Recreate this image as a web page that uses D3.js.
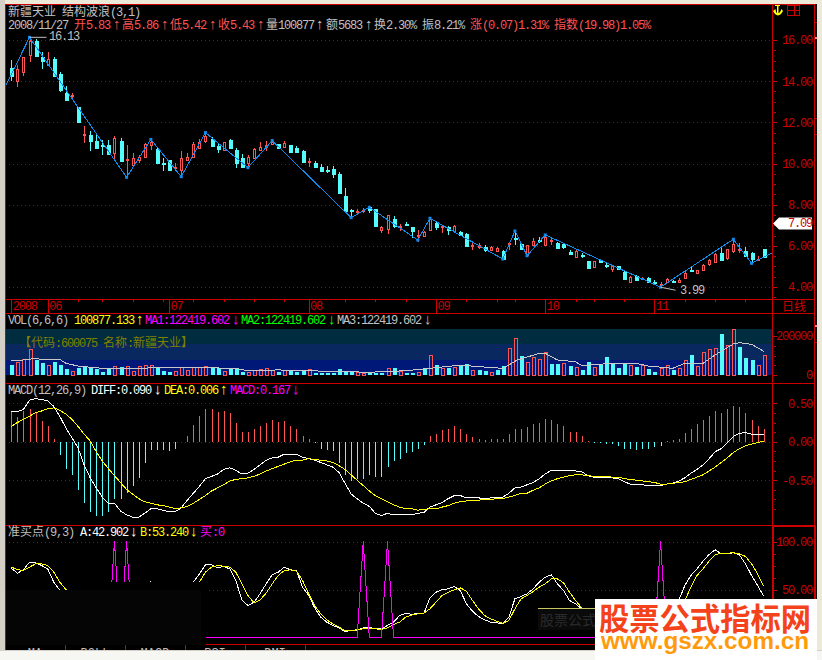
<!DOCTYPE html>
<html>
<head>
<meta charset="utf-8">
<script src="https://cdn.jsdelivr.net/npm/d3@7"></script>
<style>
  html, body { margin: 0; padding: 0; background: #fff; overflow: hidden; }
  svg { display: block; }
  text { font-family: "Liberation Mono", "Noto Sans CJK SC", monospace; font-size: 12px; }
</style>
</head>
<body>
<div class="chart"></div>
<script>
// candles, oldest first
const bodyTop = [14.62,14.58,15.16,15.97,15.97,15.19,15.06,15.08,14.35,13.44,
  13.31,12.73,11.43,11.38,11.09,10.91,10.90,11.22,11.09,10.22,
  10.25,10.30,10.95,11.06,10.69,10.02,10.17,9.81,10.25,10.30,
  10.95,11.06,11.34,11.17,10.85,11.04,11.14,10.66,10.27,10.33,
  10.70,10.79,10.88,11.06,10.93,11.01,10.88,10.77,10.62,10.14,
  10.04,9.85,9.70,9.73,9.49,8.42,7.72,7.68,7.72,7.87,
  7.77,6.90,7.50,7.29,6.98,7.06,6.90,6.54,6.66,7.29,
  7.13,6.95,6.90,6.96,6.69,6.56,6.06,6.04,5.96,5.96,
  5.88,5.77,6.13,6.38,6.09,6.04,6.25,6.30,6.41,6.27,
  6.12,6.07,5.72,5.75,5.57,5.26,5.26,5.31,5.05,5.02,
  5.00,4.74,4.50,4.53,4.44,4.42,4.26,4.16,4.39,4.31,
  4.34,4.70,4.84,4.81,5.07,5.31,5.60,5.63,5.83,6.09,
  5.86,5.77,5.63,5.36,5.83];
const bodyBottom = [14.25,14.01,14.41,15.27,15.24,15.00,14.79,14.25,13.57,13.08,
  13.26,11.98,11.40,11.09,10.77,10.88,10.45,10.49,10.14,10.19,
  9.93,10.17,10.33,10.93,10.01,9.99,9.68,9.78,9.65,10.17,
  10.33,10.77,11.08,10.85,10.70,10.66,10.74,10.04,9.85,10.04,
  10.25,10.66,10.79,10.98,10.74,10.82,10.53,10.58,10.07,10.10,
  9.85,9.65,9.67,9.49,8.55,7.71,7.69,7.64,7.69,7.71,
  6.96,6.74,6.80,6.93,6.95,7.03,6.69,6.51,6.48,6.74,
  6.93,6.92,6.77,6.74,6.53,5.99,6.03,5.96,5.80,5.83,
  5.75,5.39,6.10,6.35,5.83,5.55,6.04,6.27,6.04,6.24,
  5.88,5.93,5.60,5.44,5.54,4.94,4.96,5.21,5.02,4.86,
  4.87,4.39,4.26,4.34,4.40,4.23,4.23,4.13,4.26,4.28,
  4.26,4.47,4.81,4.66,4.83,5.12,5.23,5.31,5.39,5.75,
  5.83,5.52,5.34,5.33,5.43];
const highs = [15.03,14.78,15.16,16.13,16.03,15.43,15.43,15.16,14.46,13.76,
  13.41,12.76,11.82,11.58,11.38,11.14,11.14,11.34,11.22,10.90,
  10.49,10.41,10.98,11.22,10.74,10.28,10.17,10.04,10.62,10.53,
  11.06,11.17,11.50,11.30,11.01,11.06,11.20,10.74,10.46,10.40,
  10.74,11.06,11.09,11.17,10.93,11.08,10.88,10.85,10.66,10.25,
  10.14,9.96,9.89,9.89,9.57,8.79,7.77,7.77,7.82,7.90,
  7.77,6.96,7.50,7.45,7.06,7.17,6.90,6.77,6.72,7.34,
  7.17,7.01,6.96,7.01,6.74,6.61,6.12,6.12,6.04,5.99,
  5.93,5.80,6.15,6.72,6.15,6.04,6.36,6.41,6.53,6.36,
  6.20,6.15,5.80,5.80,5.67,5.26,5.26,5.34,5.15,5.07,
  5.04,4.79,4.53,4.58,4.50,4.50,4.34,4.23,4.42,4.34,
  4.42,4.79,4.99,4.83,5.12,5.34,5.63,5.96,5.83,6.32,
  6.12,5.96,5.72,5.51,5.86];
const lows = [14.01,13.73,14.25,14.95,15.24,14.59,14.74,14.19,13.49,13.04,
  13.12,11.98,11.01,10.62,10.74,10.41,10.41,10.17,10.14,9.33,
  9.89,10.01,10.33,10.66,10.01,9.65,9.65,9.65,9.36,10.14,
  10.33,10.74,11.01,10.82,10.53,10.62,10.70,9.80,9.80,9.80,
  10.25,10.62,10.62,10.90,10.74,10.82,10.53,10.53,10.04,9.85,
  9.85,9.64,9.52,9.31,8.52,7.71,7.37,7.50,7.58,7.61,
  6.93,6.64,6.58,6.87,6.74,6.96,6.40,6.20,6.45,6.72,
  6.77,6.61,6.53,6.69,6.48,5.96,5.80,5.85,5.72,5.80,
  5.72,5.34,5.80,6.04,5.80,5.51,6.01,6.12,6.01,6.04,
  5.85,5.85,5.55,5.42,5.39,4.94,4.91,5.18,4.91,4.74,
  4.82,4.37,4.23,4.34,4.34,4.18,4.10,3.99,4.23,4.21,
  4.18,4.45,4.74,4.63,4.79,5.04,5.20,5.28,5.31,5.63,
  5.63,5.47,5.15,5.28,5.42];
const candleDir = "crrrccrccc" + "rcrccccrcr" + "rrrrcccrrr" + "rrrccrcccr" + "rrrrcrcccr" +
  "cccccccrrc" + "crrcrccrrr" + "crcrccrrcr" + "rcrccrrcrr" + "cccrccrccr" +
  "ccrcrccrrc" + "rrcrrrrcrr" + "rccrc";

// structure wave turning points
const waveIdx = [-0.9,3,19,23,28,32,39,43,56,59,67,69,81,83,85,88,107,119,122,125.3];
const wavePrice = [13.78,16.13,9.33,11.17,9.36,11.50,9.80,11.11,7.37,7.87,6.28,7.34,5.36,6.72,5.52,6.53,3.99,6.32,5.15,5.64];

// volume, thousands of lots
const volK = [56,65,80,132,84,67,50,70,56,38,
  21,43,46,46,34,21,34,46,46,46,
  21,46,51,51,43,26,21,21,39,27,
  39,39,46,46,39,21,34,34,21,17,
  26,31,34,24,21,27,29,21,24,29,
  15,17,15,17,36,26,21,17,10,14,
  17,17,36,41,22,14,15,14,34,103,
  56,34,43,43,55,60,26,31,26,17,
  29,51,137,188,103,65,91,82,116,63,
  60,62,51,41,31,72,41,62,99,60,
  43,67,51,48,51,38,22,38,51,29,
  34,77,108,48,118,133,137,215,154,236,
  149,94,82,51,100.9];
const volDir = "crrrccrccc" + "rccccccrcr" + "rrrrcccrrr" + "rrrccrcccr" + "rrrrcrcccr" +
  "cccccccrrc" + "ccrcrccrcr" + "crcrccrccr" + "ccrrcrrrrc" + "crcrccrccc" +
  "ccrcrccrrc" + "rrcrrrrcrr" + "cccrr";
const volMaIdx = [0,2,4,5,8,9,11,15,20,27,31,37,39,44,48,53,59,65,69,74,77,81,82,83.4,87,88,90,93,94,99,103,105,109,111,114,116,119,120,122,124];
const volMa = [73,77,85,80,80,60,46,34,34,39,38,34,22,26,22,19,14,22,34,51,43,34,51,77,111,111,77,68,48,60,60,46,34,60,60,103,159,166,157,122];

// MACD
const macdBar = [.39,.32,.40,.43,.39,.27,.20,.03,-.17,-.35,
  -.43,-.63,-.79,-.91,-.96,-.96,-.91,-.75,-.74,-.67,
  -.57,-.47,-.27,-.11,-.11,-.11,-.12,-.10,0,.08,
  .22,.33,.42,.42,.39,.40,.38,.24,.13,.13,
  .17,.21,.24,.28,.26,.27,.20,.16,.07,.03,
  -.01,-.09,-.11,-.12,-.27,-.43,-.51,-.49,-.49,-.43,
  -.46,-.46,-.33,-.25,-.22,-.15,-.13,-.09,-.04,.07,
  .10,.15,.17,.20,.17,.10,.06,.04,.02,.03,
  .04,.03,.10,.17,.16,.19,.23,.25,.29,.28,
  .23,.20,.13,.13,.07,.01,-.02,-.02,-.03,-.03,
  -.05,-.10,-.10,-.11,-.09,-.09,-.07,-.05,.01,.02,
  .04,.12,.17,.23,.28,.34,.40,.38,.43,.47,
  .45,.37,.28,.21,.167];
const diff = [.39,.39,.42,.54,.56,.55,.53,.46,.33,.18,
  .05,-.08,-.30,-.47,-.60,-.72,-.80,-.80,-.90,-.95,
  -.98,-.98,-.93,-.87,-.87,-.89,-.91,-.91,-.86,-.76,
  -.67,-.58,-.48,-.45,-.42,-.36,-.34,-.37,-.42,-.41,
  -.36,-.30,-.24,-.21,-.20,-.16,-.16,-.16,-.20,-.22,
  -.24,-.27,-.30,-.33,-.40,-.54,-.68,-.74,-.80,-.84,
  -.93,-.96,-.93,-.95,-.94,-.94,-.95,-.93,-.92,-.85,
  -.82,-.79,-.74,-.70,-.70,-.73,-.73,-.73,-.74,-.73,
  -.72,-.72,-.67,-.60,-.59,-.56,-.53,-.48,-.42,-.37,
  -.37,-.37,-.38,-.38,-.39,-.44,-.46,-.46,-.47,-.47,
  -.48,-.52,-.55,-.56,-.56,-.57,-.57,-.57,-.55,-.54,
  -.51,-.47,-.41,-.36,-.30,-.22,-.13,-.09,-.01,.07,
  .11,.12,.10,.09,.09];
const dea = [.20,.25,.29,.33,.38,.40,.43,.44,.41,.36,
  .29,.20,.10,.01,-.13,-.25,-.35,-.44,-.53,-.62,
  -.68,-.74,-.78,-.80,-.82,-.83,-.85,-.87,-.86,-.84,
  -.80,-.75,-.70,-.64,-.60,-.56,-.51,-.49,-.48,-.47,
  -.45,-.42,-.38,-.35,-.32,-.29,-.26,-.24,-.24,-.22,
  -.23,-.24,-.25,-.27,-.31,-.36,-.43,-.50,-.57,-.64,
  -.70,-.74,-.78,-.82,-.85,-.87,-.87,-.89,-.88,-.87,
  -.87,-.85,-.83,-.80,-.78,-.77,-.77,-.76,-.75,-.75,
  -.74,-.74,-.72,-.70,-.67,-.67,-.63,-.60,-.55,-.51,
  -.48,-.46,-.44,-.43,-.43,-.44,-.45,-.45,-.45,-.46,
  -.46,-.48,-.49,-.50,-.51,-.52,-.53,-.55,-.55,-.54,
  -.53,-.52,-.49,-.46,-.43,-.38,-.33,-.27,-.21,-.14,
  -.09,-.05,-.03,-.01,.006];

// buy point indicator
const lineA = [72.2,67.0,70.5,78.5,77.8,75.0,71.5,57.6,49.0,
  44,38,30,25,20,15,12,10,10,12,15,
  30,40,50,58,52,45,35,30,28,38,
  57.6,66.3,75.7,75.7,72.6,74.0,71.5,59.4,39.2,33.3,
  36.8,45.5,55.9,65.3,68.1,73.3,70.5,69.8,52.4,43.8,
  30.9,21.2,16.0,12.5,10.1,6.3,7.3,7.3,10.1,10.8,
  9.0,9.0,12.5,16.0,22.9,25.3,24.0,25.3,25.3,41.3,
  47.2,50.0,50.7,53.1,49.0,35.1,27.4,21.9,18.4,16.0,
  15.3,14.2,21.2,40.3,42.7,45.5,50.7,57.6,62.8,65.3,
  55.9,49.0,38.5,35.1,29.9,25,20,18,15,12,
  10,8,7,6,6,5,6,8,12,18,
  38.5,54.2,64.6,71.5,79.5,86.5,91.3,87.2,87.2,88.2,
  86.1,76.7,64.6,54.2,42.9];
const lineB = [73.3,70.8,69.8,73.3,76.7,76.7,75.0,68.1,57.6,
  50,42,36,30,25,20,16,14,12,12,14,
  18,24,30,38,44,45,42,38,35,38,
  45,57.6,68.1,73.3,75.0,74.3,73.3,68.1,55.9,43.8,
  36.1,39.2,46.2,55.9,64.6,69.8,70.5,69.1,59.4,45.5,
  33.3,24.7,18.4,14.2,10.8,7.3,7.3,8.0,9.0,9.7,
  9.0,8.3,10.1,13.6,16.0,21.2,23.3,24.7,25.3,29.9,
  36.8,43.8,47.2,49.7,51.7,48.3,38.5,29.9,22.9,19.4,
  17.0,14.9,17.7,29.9,40.3,43.8,47.9,52.4,55.9,61.1,
  61.1,57.0,47.2,38.5,30.9,26,22,20,18,15,
  12,10,8,7,6,6,6,7,9,13,
  21.2,38.5,52.4,64.6,71.5,79.5,86.1,87.9,87.9,88.2,
  87.2,84.4,76.7,66.3,53.24];
const buyIdx = [17,19,58,62,107];

// time axis
const minorDays = [11,15,20,25,30,35,40,45,55,60,65,75,80,83,93,96,101,111,116,121];
const monthDays = [0,6,26,49,70,88,106];
const monthLabels = ["2008","06","07","08","09","10","11"];

const priceTicks = [16,14,12,10,8,6,4];
const macdTicks = [0.5,0,-0.5];
const buyTicks = [100,50];

const RED = "#cc0000", UP = "#ff5454", DOWN = "#54fcfc", GRAY = "#c0c0c0", WAVE = "#0f8cf0";
const MAGENTA = "#ff00ff", YELLOW = "#ffff00", GREEN = "#00ff00";
const width = 822, height = 660;
const left = 5, axisX = 773, rightX = 814;

const svg = d3.select(".chart").append("svg").attr("width", width).attr("height", height);
svg.append("rect").attr("width", width).attr("height", height).attr("fill", "#000");

const x = d3.scaleLinear().domain([0, 124]).range([11.3, 763.7]);
const yPrice = d3.scaleLinear().domain([16, 4]).range([40, 287]);
const yVol = d3.scaleLinear().domain([0, 200]).range([375, 336]);
const yMacd = d3.scaleLinear().domain([0.5, -0.5]).range([403.3, 480.2]);
const yBuy = d3.scaleLinear().domain([100, 0]).range([541.5, 637.5]);
const px = (i) => Math.round(x(i)) + 0.5;

// text helper: half width latin, full width CJK, like the bitmap font of the original
function label(g, xp, yp, str, color) {
  const t = g.append("text").attr("x", xp).attr("y", yp).attr("fill", color);
  str.match(/[\u3000-\u9fff\uff00-\uffff]+|[↑↓]+|[^\u3000-\u9fff\uff00-\uffff↑↓]+/g).forEach((run) => {
    const cjk = /[\u3000-\u9fff\uff00-\uffff]/.test(run);
    const arrow = /[↑↓]/.test(run);
    const s = t.append("tspan").text(run)
      .style("letter-spacing", cjk || arrow ? "0px" : "-1.2px")
      .style("white-space", "pre");
    if (arrow) s.style("font-size", "15px").style("font-family", '"Liberation Sans"');
  });
  return t;
}

function grid(scale, ticks) {
  svg.append("g").selectAll("line").data(ticks).join("line")
    .attr("x1", left).attr("x2", axisX)
    .attr("y1", (d) => Math.round(scale(d)) + 0.5).attr("y2", (d) => Math.round(scale(d)) + 0.5)
    .attr("stroke", "#b00000").attr("stroke-dasharray", "1 3");
}

// volume panel bands
[[329, 344, "#002c40"], [344, 360, "#0a2860"], [360, 375, "#001878"]].forEach((b) => {
  svg.append("rect").attr("x", left).attr("y", b[0]).attr("width", axisX - left).attr("height", b[1] - b[0]).attr("fill", b[2]);
});

grid(yPrice, priceTicks);
grid(yMacd, macdTicks);
grid(yBuy, buyTicks);

// candles
const candles = svg.append("g").attr("shape-rendering", "crispEdges");
candles.selectAll(".wick").data(highs).join("line").attr("class", "wick")
  .attr("x1", (d, i) => px(i)).attr("x2", (d, i) => px(i))
  .attr("y1", (d) => yPrice(d)).attr("y2", (d, i) => yPrice(lows[i]))
  .attr("stroke", (d, i) => candleDir[i] === "r" ? UP : DOWN);
candles.selectAll(".body").data(bodyTop).join("rect").attr("class", "body")
  .attr("x", (d, i) => candleDir[i] === "r" ? px(i) - 1 : px(i) - 1.5)
  .attr("width", (d, i) => candleDir[i] === "r" ? 2 : 3)
  .attr("y", (d) => Math.round(yPrice(d)) + 0.5)
  .attr("height", (d, i) => Math.max(1, Math.round(yPrice(bodyBottom[i]) - yPrice(d))))
  .attr("fill", (d, i) => candleDir[i] === "r" ? "#000" : DOWN)
  .attr("stroke", (d, i) => candleDir[i] === "r" ? UP : DOWN);

// wave line
const waveLine = d3.line().x((d, i) => x(waveIdx[i])).y((d) => yPrice(d));
svg.append("path").attr("d", waveLine(wavePrice)).attr("fill", "none").attr("stroke", WAVE)
  .attr("shape-rendering", "crispEdges");
svg.append("g").selectAll("rect").data(wavePrice.slice(1, -1)).join("rect")
  .attr("x", (d, i) => x(waveIdx[i + 1]) - 1.5).attr("y", (d) => yPrice(d) - 1.5)
  .attr("width", 3).attr("height", 3).attr("fill", WAVE);

// high and low notes
const notes = svg.append("g");
notes.append("line").attr("x1", x(3)).attr("x2", x(3) + 17).attr("y1", yPrice(16.13)).attr("y2", yPrice(16.13)).attr("stroke", GRAY);
label(notes, 49, 40, "16.13", GRAY);
notes.append("line").attr("x1", x(107)).attr("x2", x(107) + 15).attr("y1", yPrice(3.99)).attr("y2", yPrice(3.99) + 3).attr("stroke", GRAY);
label(notes, 680, 294, "3.99", GRAY);

// volume bars
const volG = svg.append("g").attr("shape-rendering", "crispEdges");
volG.selectAll("rect").data(volK).join("rect")
  .attr("x", (d, i) => px(i) - (volDir[i] === "r" ? 1.5 : 2))
  .attr("width", (d, i) => volDir[i] === "r" ? 3 : 4)
  .attr("y", (d) => Math.round(yVol(d)) + 0.5)
  .attr("height", (d) => 375 - Math.round(yVol(d)) - 0.5)
  .attr("fill", (d, i) => volDir[i] === "r" ? "none" : DOWN)
  .attr("stroke", (d, i) => volDir[i] === "r" ? UP : "none");
const volLine = d3.line().x((d, i) => x(volMaIdx[i])).y((d) => yVol(d));
svg.append("path").attr("d", volLine(volMa)).attr("fill", "none").attr("stroke", "#c8c8c8")
  .attr("shape-rendering", "crispEdges");
label(svg, 19, 347, "【代码:600075 名称:新疆天业】", "#808000");

// MACD
svg.append("g").attr("shape-rendering", "crispEdges").selectAll("line").data(macdBar).join("line")
  .attr("x1", (d, i) => px(i)).attr("x2", (d, i) => px(i))
  .attr("y1", yMacd(0)).attr("y2", (d) => yMacd(d))
  .attr("stroke", (d) => d >= 0 ? UP : DOWN);
const macdLine = d3.line().x((d, i) => x(i)).y((d) => yMacd(d));
svg.append("path").attr("d", macdLine(diff)).attr("fill", "none").attr("stroke", "#fff").attr("shape-rendering", "crispEdges");
svg.append("path").attr("d", macdLine(dea)).attr("fill", "none").attr("stroke", YELLOW).attr("shape-rendering", "crispEdges");

// buy point panel
const buyLine = d3.line().x((d, i) => x(i)).y((d) => yBuy(d));
const buy = d3.range(bodyTop.length).map((i) => buyIdx.includes(i) ? 100 : 0);
svg.append("path").attr("d", buyLine(lineA)).attr("fill", "none").attr("stroke", "#fff").attr("shape-rendering", "crispEdges");
svg.append("path").attr("d", buyLine(lineB)).attr("fill", "none").attr("stroke", YELLOW).attr("shape-rendering", "crispEdges");
svg.append("path").attr("d", buyLine(buy)).attr("fill", "none").attr("stroke", MAGENTA).attr("shape-rendering", "crispEdges");

// frame lines
const frame = svg.append("g").attr("stroke", RED).attr("shape-rendering", "crispEdges");
[4.5, 299.5, 313.5, 383.5, 525.5].forEach((yy) => {
  frame.append("line").attr("x1", left).attr("x2", rightX).attr("y1", yy).attr("y2", yy);
});
frame.append("line").attr("x1", 206).attr("x2", axisX).attr("y1", 644.5).attr("y2", 644.5);
frame.append("line").attr("x1", left + 0.5).attr("x2", left + 0.5).attr("y1", 4).attr("y2", 650);
frame.append("line").attr("x1", axisX - 0.5).attr("x2", axisX - 0.5).attr("y1", 4).attr("y2", 645);
frame.append("line").attr("x1", rightX + 0.5).attr("x2", rightX + 0.5).attr("y1", 4).attr("y2", 645);
frame.append("rect").attr("x", axisX - 0.5).attr("y", 526).attr("width", rightX - axisX + 1).attr("height", 118)
  .attr("fill", "none").attr("stroke-width", 2);
// short marks right of the frame
[22, 118, 134, 342].forEach((yy) => {
  frame.append("line").attr("x1", rightX).attr("x2", rightX + 3).attr("y1", yy + 0.5).attr("y2", yy + 0.5);
});
[38, 326].forEach((yy) => {
  svg.append("rect").attr("x", rightX + 1).attr("y", yy - 1).attr("width", 3).attr("height", 2).attr("fill", "#ff8080");
});

// value axes on the right
function rightAxis(scale, ticks, fmt, minor) {
  const g = svg.append("g").attr("transform", `translate(${axisX},0)`)
    .attr("shape-rendering", "crispEdges")
    .call(d3.axisRight(scale).tickValues(ticks).tickSize(4).tickFormat(fmt));
  g.select(".domain").remove();
  g.selectAll(".tick line").attr("stroke", RED);
  g.selectAll(".tick text").attr("x", 39).attr("text-anchor", "end").attr("fill", RED)
    .attr("font-size", 12).attr("font-family", "Liberation Mono")
    .style("letter-spacing", "-1.2px");
  const m = svg.append("g").attr("transform", `translate(${axisX + 1},0)`)
    .attr("shape-rendering", "crispEdges")
    .call(d3.axisRight(scale).tickValues(minor).tickSize(2).tickFormat(""));
  m.select(".domain").remove();
  m.selectAll(".tick line").attr("stroke", RED);
}
rightAxis(yPrice, priceTicks, (d) => d.toFixed(2), d3.range(3.5, 17, 0.5).filter((d) => d % 2 !== 0 && d <= 16));
rightAxis(yVol, [200, 0], (d) => d ? String(d * 1000) : "0", [50, 100, 150]);
rightAxis(yMacd, macdTicks, (d) => d.toFixed(2), d3.range(-0.875, 0.5, 0.125).filter((d) => d % 0.5 !== 0));
rightAxis(yBuy, buyTicks, (d) => d.toFixed(2), [87.5, 75, 62.5, 37.5, 25, 12.5]);

// current price tag
svg.append("path")
  .attr("d", d3.line()([[773, yPrice(7.09)], [779, yPrice(7.09) - 6], [812, yPrice(7.09) - 6], [812, yPrice(7.09) + 6], [779, yPrice(7.09) + 6]]) + "Z")
  .attr("fill", "#fff");
label(svg, 788, yPrice(7.09) + 4, "7.09", "#cc0000");

// time axis
const timeG = svg.append("g").attr("transform", "translate(0,299)").attr("shape-rendering", "crispEdges")
  .call(d3.axisBottom(x).tickValues(minorDays).tickSize(3).tickFormat(""));
timeG.select(".domain").remove();
timeG.selectAll("line").attr("stroke", RED);
const monthG = svg.append("g").attr("transform", "translate(0,299)").attr("shape-rendering", "crispEdges")
  .call(d3.axisBottom(x).tickValues(monthDays).tickSize(14).tickFormat((d, i) => monthLabels[i]));
monthG.select(".domain").remove();
monthG.selectAll("line").attr("stroke", RED);
monthG.selectAll("text").attr("y", 11).attr("dy", 0).attr("x", 1).attr("text-anchor", "start")
  .attr("fill", RED).attr("font-size", 12).attr("font-family", "Liberation Mono").style("letter-spacing", "-1.2px");
label(svg, 782, 311, "日线", RED);

// masks pasted over the lower left of the original
svg.append("rect").attr("x", 6).attr("y", 590).attr("width", 200).attr("height", 55).attr("fill", "#000");
svg.append("rect").attr("x", 105).attr("y", 582).attr("width", 101).attr("height", 8).attr("fill", "#000");
svg.append("rect").attr("x", 6).attr("y", 590).attr("width", 195).attr("height", 55).attr("fill", "#050505");

// tabs
const tabLabels = ["MA", "BOLL", "MACD", "RSI", "DMI"];
const tabs = svg.append("g");
tabLabels.forEach((t, i) => {
  tabs.append("text").attr("x", 35 + i * 60).attr("y", 657).attr("text-anchor", "middle").attr("fill", GRAY).text(t);
  tabs.append("line").attr("x1", 65.5 + i * 60).attr("x2", 65.5 + i * 60).attr("y1", 645).attr("y2", 650).attr("stroke", RED);
});

// second pasted box
svg.append("rect").attr("x", 538).attr("y", 608).attr("width", 57).attr("height", 22).attr("fill", "#0a0a0a");
svg.append("line").attr("x1", 538).attr("x2", 595).attr("y1", 608.5).attr("y2", 608.5).attr("stroke", "#c8c860");
svg.append("text").attr("x", 540).attr("y", 625).style("font-size", "14px").attr("fill", "#2a2a2a").text("股票公式指");

// window edges
svg.append("rect").attr("x", 0).attr("y", 650).attr("width", width).attr("height", 10).attr("fill", "#f6f6f2");
svg.append("rect").attr("x", 0).attr("y", 650).attr("width", width).attr("height", 1).attr("fill", "#d4d0c8");
svg.append("rect").attr("x", 0).attr("y", 0).attr("width", width).attr("height", 4).attr("fill", "#ece9d8");
svg.append("rect").attr("x", 0).attr("y", 0).attr("width", 5).attr("height", 650).attr("fill", "#d4d0c8");
svg.append("rect").attr("x", 817).attr("y", 0).attr("width", 5).attr("height", 650).attr("fill", "#ece9d8");

// header texts
label(svg, 8, 16, "新疆天业 结构波浪(3,1)", GRAY);
const row = [[8, "2008/11/27", GRAY], [74, "开5.83", UP], [113, "↑", UP], [122, "高5.86", UP], [161, "↑", UP], [170, "低5.42", UP], [209, "↑", UP],
  [218, "收5.43", UP], [257, "↑", UP], [266, "量100877", GRAY], [316, "↑", GRAY], [326, "额5683", GRAY], [365, "↑", GRAY], [374, "换2.30%", GRAY],
  [422, "振8.21%", GRAY], [470, "涨(0.07)1.31%", UP], [554, "指数(19.98)1.05%", UP]];
row.forEach((r) => label(svg, r[0], 29, r[1], r[2]));

const volRow = [[8, "VOL(6,6,6)", GRAY], [74, "100877.133", YELLOW], [136, "↑", YELLOW], [145, "MA1:122419.602", MAGENTA], [232, "↓", MAGENTA],
  [241, "MA2:122419.602", GREEN], [328, "↓", GREEN], [337, "MA3:122419.602", GRAY], [424, "↓", GRAY]];
volRow.forEach((r) => label(svg, r[0], 324, r[1], r[2]));

const macdRow = [[8, "MACD(12,26,9)", GRAY], [91, "DIFF:0.090", "#fff"], [154, "↓", "#fff"], [164, "DEA:0.006", YELLOW], [220, "↑", YELLOW],
  [230, "MACD:0.167", MAGENTA], [292, "↓", MAGENTA]];
macdRow.forEach((r) => label(svg, r[0], 394, r[1], r[2]));

const buyRow = [[8, "准买点(9,3)", GRAY], [80, "A:42.902", "#fff"], [130, "↓", "#fff"], [140, "B:53.240", YELLOW], [190, "↓", YELLOW], [200, "买:0", MAGENTA]];
buyRow.forEach((r) => label(svg, r[0], 536, r[1], r[2]));

// top right icons
svg.append("path").attr("d", "M775.5 9 Q776 13 777 13 L777 6 L775 6 L775 5 L780 5 L780 6 L778.5 6 L778.5 13 Q780 13 781.5 9 L783 11 Q781 15 778 15.5 Q775 15 773 11 Z")
  .attr("fill", YELLOW);
svg.append("rect").attr("x", 787.5).attr("y", 5.5).attr("width", 12).attr("height", 10).attr("fill", "none").attr("stroke", RED);
svg.append("path").attr("d", "M787.5 10.5H799.5M794.5 5.5V15.5").attr("stroke", RED).attr("fill", "none");

// site stamp
svg.append("rect").attr("x", 595).attr("y", 599).attr("width", 222).attr("height", 61).attr("fill", "#fff");
svg.append("text").attr("x", 599).attr("y", 630).attr("textLength", 212).attr("lengthAdjust", "spacingAndGlyphs")
  .style("font-size", "31px").style("font-weight", "bold").attr("fill", "#f4421a")
  .style("font-family", '"Noto Sans CJK SC"').text("股票公式指标网");
svg.append("text").attr("x", 601).attr("y", 649).attr("textLength", 208).attr("lengthAdjust", "spacingAndGlyphs")
  .style("font-size", "23px").style("font-weight", "bold").attr("fill", "#ff9a0a")
  .style("font-family", '"Liberation Sans"').text("www.gszx.com.cn");
</script>
</body>
</html>
